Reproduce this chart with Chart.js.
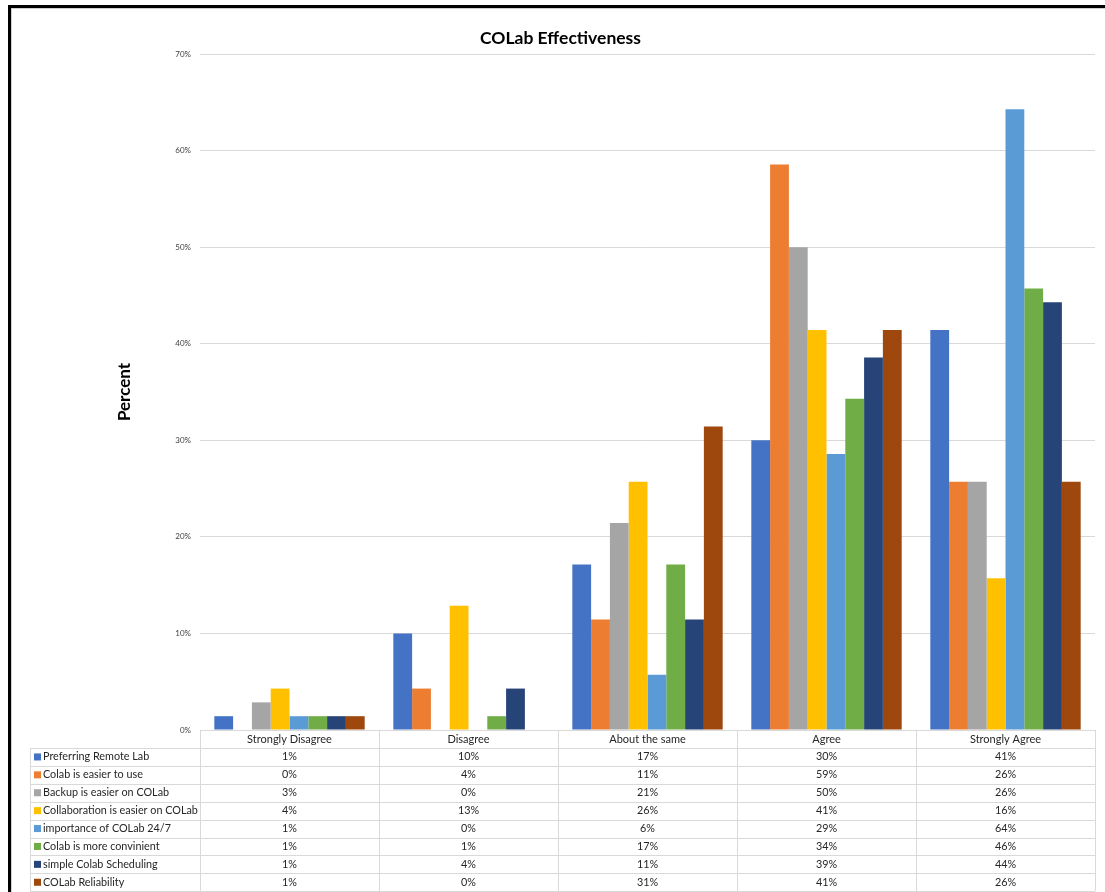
<!DOCTYPE html>
<html>
<head>
<meta charset="utf-8">
<title>COLab Effectiveness</title>
<script src="https://cdn.jsdelivr.net/npm/chart.js@4.4.1/dist/chart.umd.min.js"></script>
<style>
  html, body { margin: 0; padding: 0; background: #fff; overflow: hidden; }
  #wrap { position: relative; width: 1105px; height: 892px; }
  #frame {
    position: absolute; left: 8px; top: 5px; width: 1120px; height: 910px;
    border-left: 3px solid #000; border-top: 3px solid #000;
    box-shadow: inset 1px 1px 0 #d0d0d0;
    pointer-events: none;
  }
  canvas { position: absolute; left: 0; top: 0; }
</style>
</head>
<body>
<div id="wrap">
  <canvas id="colab" width="1105" height="892"></canvas>
  <div id="frame"></div>
</div>
<script>
// survey answers, percent of respondents
const categories = ['Strongly Disagree', 'Disagree', 'About the same', 'Agree', 'Strongly Agree'];

const seriesNames = [
  'Preferring Remote Lab',
  'Colab is easier to use',
  'Backup is easier on COLab',
  'Collaboration is easier on COLab',
  'importance of COLab 24/7',
  'Colab is more convinient',
  'simple Colab Scheduling',
  'COLab Reliability'
];
const seriesColors = ['#4472C4', '#ED7D31', '#A5A5A5', '#FFC000', '#5B9BD5', '#70AD47', '#264478', '#9E480E'];

const preferringRemote = [1.43, 10.0, 17.14, 30.0, 41.43];
const easierToUse      = [0, 4.29, 11.43, 58.57, 25.71];
const backupEasier     = [2.86, 0, 21.43, 50.0, 25.71];
const collabEasier     = [4.29, 12.86, 25.71, 41.43, 15.71];
const importance247    = [1.43, 0, 5.71, 28.57, 64.29];
const moreConvenient   = [1.43, 1.43, 17.14, 34.29, 45.71];
const simpleScheduling = [1.43, 4.29, 11.43, 38.57, 44.29];
const reliability      = [1.43, 0, 31.43, 41.43, 25.71];

const seriesValues = [preferringRemote, easierToUse, backupEasier, collabEasier,
  importance247, moreConvenient, simpleScheduling, reliability];

const yTicks = [0, 10, 20, 30, 40, 50, 60, 70];

const FONT = "Lato, 'Open Sans', sans-serif";
const GRID = '#D9D9D9';

// data table under the plot: legend column + one rounded value per category
const dataTable = {
  id: 'dataTable',
  afterDraw(chart) {
    const { ctx, chartArea, scales } = chart;
    const x = scales.x;
    const colW = (chartArea.right - chartArea.left) / categories.length;
    const top = chartArea.bottom;
    const headH = 18;
    const rowH = 17.9;
    const legendLeft = 30;
    const tableBottom = top + headH + rowH * seriesNames.length;

    ctx.save();
    ctx.strokeStyle = GRID;
    ctx.lineWidth = 1;

    // horizontal rules
    ctx.beginPath();
    ctx.moveTo(chartArea.left, top + 0.5);
    ctx.lineTo(chartArea.right, top + 0.5);
    for (let r = 0; r <= seriesNames.length; r++) {
      const y = Math.round(top + headH + r * rowH) + 0.5;
      ctx.moveTo(legendLeft, y);
      ctx.lineTo(chartArea.right, y);
    }
    // vertical rules
    ctx.moveTo(legendLeft + 0.5, top + headH);
    ctx.lineTo(legendLeft + 0.5, tableBottom);
    for (let c = 0; c <= categories.length; c++) {
      const xx = Math.round(chartArea.left + c * colW) + 0.5;
      ctx.moveTo(xx, top);
      ctx.lineTo(xx, tableBottom);
    }
    ctx.stroke();

    ctx.font = '10.8px ' + FONT;
    ctx.textBaseline = 'middle';
    seriesNames.forEach((name, r) => {
      const cy = top + headH + r * rowH + rowH / 2;
      ctx.fillStyle = seriesColors[r];
      ctx.fillRect(legendLeft + 4, cy - 3.5, 7, 7);
      ctx.fillStyle = '#262626';
      ctx.textAlign = 'left';
      ctx.fillText(name, legendLeft + 13, cy);
      ctx.textAlign = 'center';
      seriesValues[r].forEach((v, i) => {
        ctx.fillText(Math.round(v) + '%', x.getPixelForValue(i), cy);
      });
    });
    ctx.restore();
  }
};

new Chart(document.getElementById('colab'), {
  type: 'bar',
  data: {
    labels: categories,
    datasets: seriesNames.map((name, i) => ({
      label: name,
      data: seriesValues[i],
      backgroundColor: seriesColors[i],
      borderWidth: 0,
      barPercentage: 1,
      categoryPercentage: 0.84
    }))
  },
  options: {
    responsive: false,
    animation: false,
    layout: { padding: { left: 26, right: 10, top: 0, bottom: 0 } },
    plugins: {
      legend: { display: false },
      tooltip: { enabled: false },
      title: {
        display: true,
        text: 'COLab Effectiveness',
        color: '#000',
        font: { family: FONT, size: 17.5, weight: 'bold' },
        padding: { top: 28, bottom: 5 }
      }
    },
    scales: {
      x: {
        grid: { display: false, drawTicks: false },
        border: { display: false },
        ticks: { color: '#262626', font: { family: FONT, size: 11 }, padding: 3, maxRotation: 0 },
        afterFit(scale) { scale.height = 162; }
      },
      y: {
        min: 0,
        max: 70,
        afterBuildTicks(scale) { scale.ticks = yTicks.map(v => ({ value: v })); },
        grid: { color: GRID, drawTicks: false },
        border: { display: false },
        ticks: {
          color: '#404040',
          font: { family: FONT, size: 8 },
          padding: 9,
          callback: v => v + '%'
        },
        title: {
          display: true,
          text: 'Percent',
          color: '#000',
          font: { family: FONT, size: 17, weight: 'bold' },
          padding: { top: 88, bottom: 0 }
        },
        afterFit(scale) { scale.width = 174; }
      }
    }
  },
  plugins: [dataTable]
});
</script>
</body>
</html>
